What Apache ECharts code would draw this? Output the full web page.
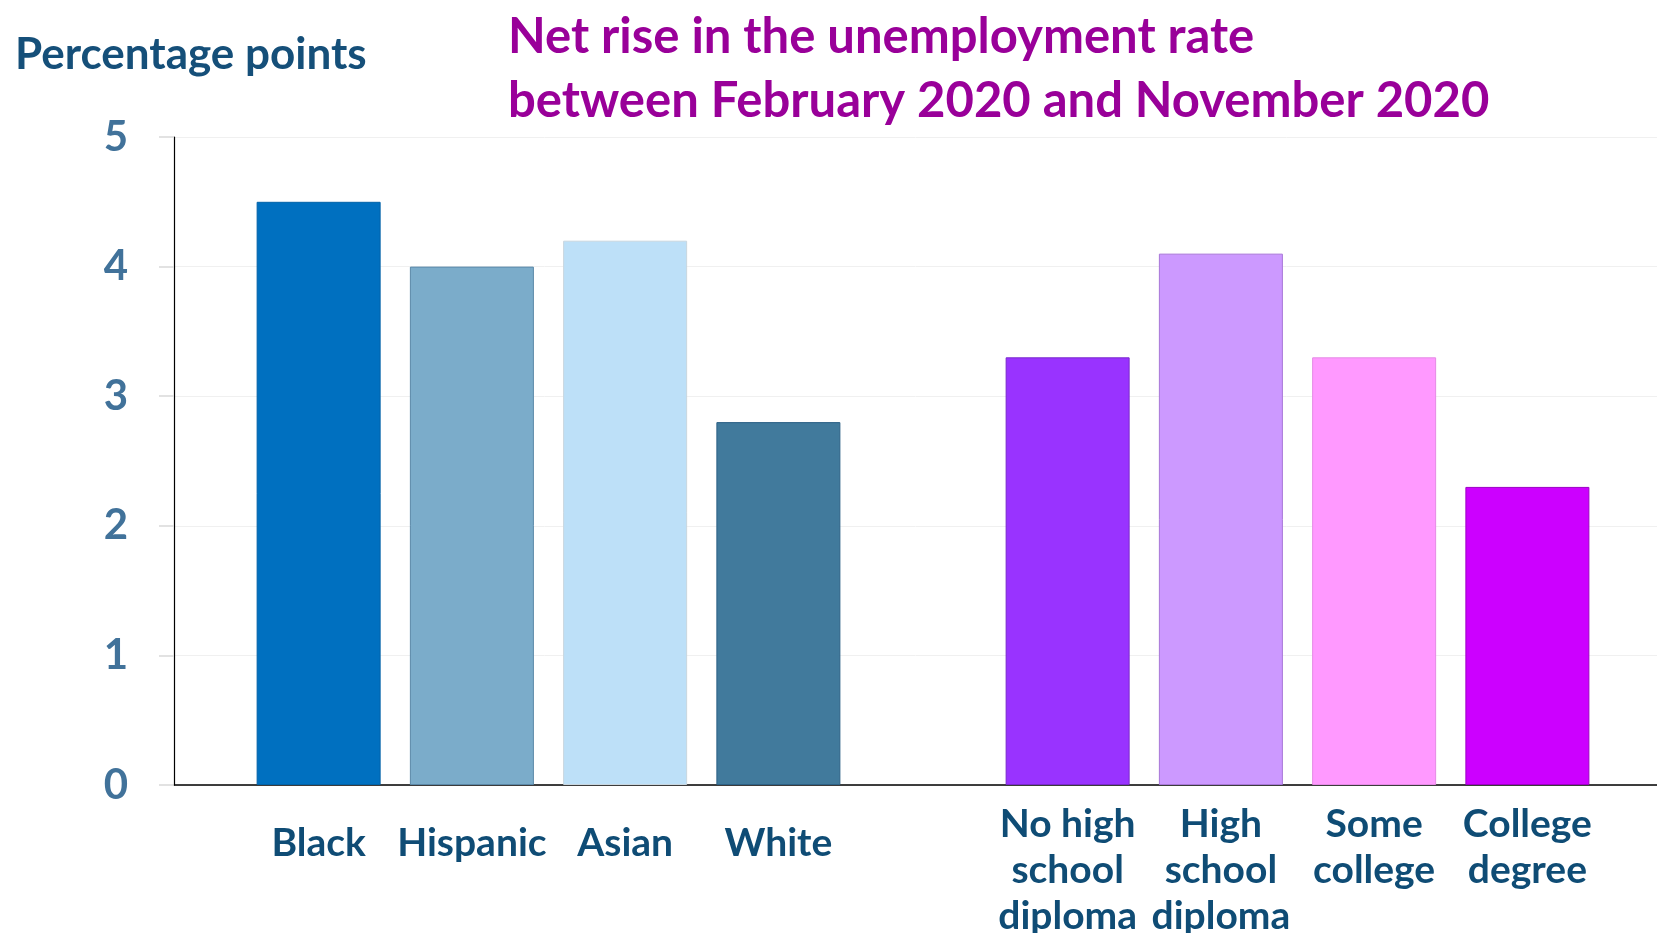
<!DOCTYPE html>
<html>
<head>
<meta charset="utf-8">
<script src="https://cdn.jsdelivr.net/npm/echarts@6/dist/echarts.min.js"></script>
<style>
  html, body { margin: 0; padding: 0; background: #fff; }
  #chart { width: 1657px; height: 933px; }
</style>
</head>
<body>
<div id="chart"></div>
<script>
// data
var raceCats = ['Black', 'Hispanic', 'Asian', 'White'];
var raceValues = [4.5, 4.0, 4.2, 2.8];
var raceColors = ['#0070c0', '#7bacca', '#bde0f8', '#417a9c'];
var raceBorders = ['#0062a8', '#5b88a8', '#c9d6df', '#2c6186'];

var eduCats = ['No high\nschool\ndiploma', 'High\nschool\ndiploma', 'Some\ncollege', 'College\ndegree'];
var eduValues = [3.3, 4.1, 3.3, 2.3];
var eduColors = ['#9933ff', '#cc99ff', '#ff99ff', '#cc00ff'];
var eduBorders = ['#7a29cc', '#a877d8', '#e58ae5', '#9d00c4'];

var yTicks = [0, 1, 2, 3, 4, 5];

var FONT = 'Lato, "Noto Sans", sans-serif';

function bars(values, colors, borders) {
  var out = [];
  for (var i = 0; i < values.length; i++) {
    out.push({
      value: values[i],
      itemStyle: { color: colors[i], borderColor: borders[i], borderWidth: 1 }
    });
  }
  return out;
}

var myChart = echarts.init(document.getElementById('chart'));

var gridTop = 137, gridH = 648;

myChart.setOption({
  animation: false,
  title: [
    {
      text: 'Net rise in the unemployment rate\nbetween February 2020 and November 2020',
      left: 503, top: 0,
      textStyle: { fontFamily: FONT, fontSize: 49, fontWeight: 'bold', color: '#990099', lineHeight: 64 }
    },
    {
      text: 'Percentage points',
      left: 10, top: 24,
      textStyle: { fontFamily: FONT, fontSize: 44, fontWeight: 'bold', color: '#154f79', lineHeight: 52 }
    }
  ],
  grid: [
    // frame: axes lines, gridlines, y labels
    { left: 174, right: 0, top: gridTop, height: gridH, outerBoundsMode: 'none' },
    // race group
    { left: 242, width: 613, top: gridTop, height: gridH, outerBoundsMode: 'none' },
    // education group
    { left: 991, width: 613, top: gridTop, height: gridH, outerBoundsMode: 'none' }
  ],
  xAxis: [
    {
      gridIndex: 0, type: 'category', data: [''],
      axisLine: { lineStyle: { color: '#000', width: 1.5 } },
      axisTick: { show: false }, axisLabel: { show: false }
    },
    {
      gridIndex: 1, type: 'category', data: raceCats,
      axisLine: { show: false }, axisTick: { show: false },
      axisLabel: { interval: 0, margin: 35, fontFamily: FONT, fontSize: 39, fontWeight: 'bold', color: '#0f4c75', lineHeight: 46 }
    },
    {
      gridIndex: 2, type: 'category', data: eduCats,
      axisLine: { show: false }, axisTick: { show: false },
      axisLabel: { interval: 0, margin: 16, fontFamily: FONT, fontSize: 39, fontWeight: 'bold', color: '#0f4c75', lineHeight: 46 }
    }
  ],
  yAxis: [
    {
      gridIndex: 0, type: 'value', min: yTicks[0], max: yTicks[yTicks.length - 1], interval: 1,
      axisLine: { show: true, lineStyle: { color: '#000', width: 1.2 } },
      axisTick: { show: true, length: 15, lineStyle: { color: '#d9d9d9', width: 1.5 } },
      splitLine: { lineStyle: { color: '#f0f0f0', width: 1 } },
      axisLabel: { margin: 46, fontFamily: FONT, fontSize: 42, fontWeight: 'bold', color: '#41729a' }
    },
    { gridIndex: 1, type: 'value', min: 0, max: 5, show: false },
    { gridIndex: 2, type: 'value', min: 0, max: 5, show: false }
  ],
  series: [
    {
      type: 'bar', xAxisIndex: 1, yAxisIndex: 1, barWidth: 124,
      data: bars(raceValues, raceColors, raceBorders)
    },
    {
      type: 'bar', xAxisIndex: 2, yAxisIndex: 2, barWidth: 124,
      data: bars(eduValues, eduColors, eduBorders)
    }
  ]
});
</script>
</body>
</html>
